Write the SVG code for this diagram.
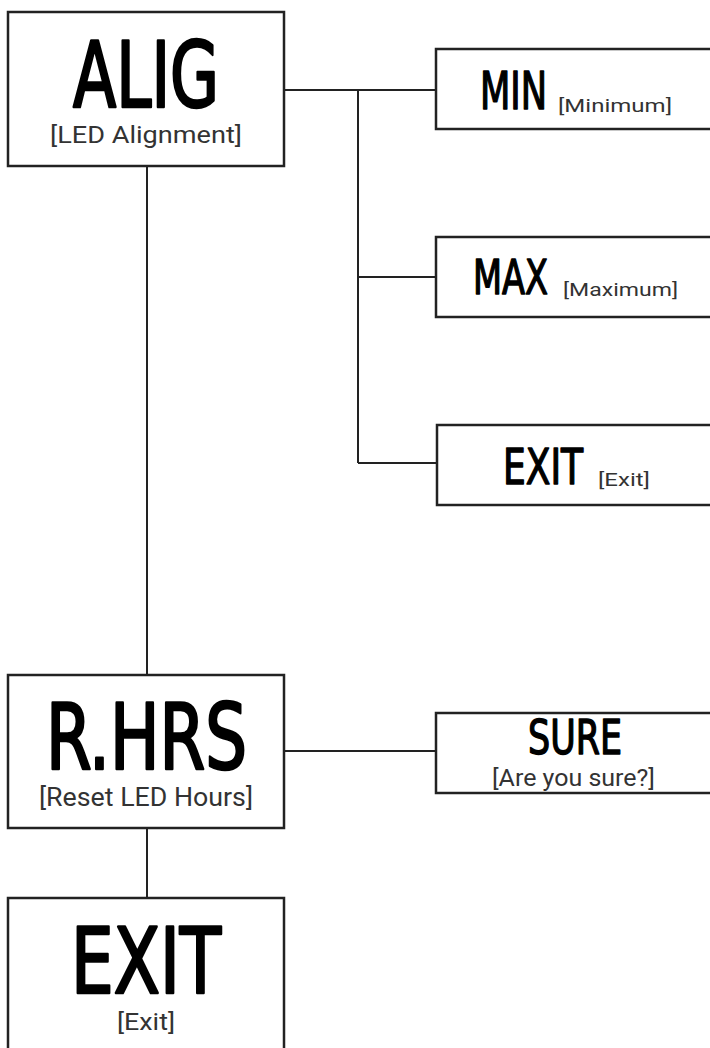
<svg xmlns="http://www.w3.org/2000/svg" width="710" height="1048" viewBox="0 0 710 1048">
<style>
.box{fill:#fff;stroke:#222;stroke-width:2.5}
.seg{font-family:"DejaVu Sans Condensed","DejaVu Sans",sans-serif;font-weight:normal;fill:#000;stroke:#000;stroke-linejoin:round}
.big{stroke-width:2.6}
.sm{stroke-width:1.4}
.lbl{font-family:Roboto,"Liberation Sans",sans-serif;fill:#333}
.conn line{stroke:#222;stroke-width:2}
</style>
<rect width="710" height="1048" fill="#fff"/>
<g class="conn">
<line x1="147" y1="166" x2="147" y2="675"/>
<line x1="284" y1="90" x2="436" y2="90"/>
<line x1="358" y1="90" x2="358" y2="463"/>
<line x1="358" y1="277" x2="436" y2="277"/>
<line x1="358" y1="463" x2="436" y2="463"/>
<line x1="284" y1="751" x2="436" y2="751"/>
<line x1="147" y1="828" x2="147" y2="898"/>
</g>
<g id="alig">
<rect class="box" x="8" y="12" width="276" height="154"/>
<text class="seg big" x="73" y="107" font-size="91" textLength="146" lengthAdjust="spacingAndGlyphs">ALIG</text>
<text class="lbl" x="50" y="143" font-size="24" textLength="192" lengthAdjust="spacingAndGlyphs">[LED Alignment]</text>
</g>
<g id="min">
<rect class="box" x="436" y="49" width="290" height="80"/>
<text class="seg sm" x="480" y="109" font-size="51" textLength="67" lengthAdjust="spacingAndGlyphs">MIN</text>
<text class="lbl" x="558" y="112" font-size="18" textLength="114" lengthAdjust="spacingAndGlyphs">[Minimum]</text>
</g>
<g id="max">
<rect class="box" x="436" y="237" width="290" height="80"/>
<text class="seg sm" x="473" y="294" font-size="48" textLength="75" lengthAdjust="spacingAndGlyphs">MAX</text>
<text class="lbl" x="563" y="296" font-size="18" textLength="115" lengthAdjust="spacingAndGlyphs">[Maximum]</text>
</g>
<g id="exit1">
<rect class="box" x="437" y="425" width="290" height="80"/>
<text class="seg sm" x="503" y="484" font-size="50" textLength="80" lengthAdjust="spacingAndGlyphs">EXIT</text>
<text class="lbl" x="598" y="486" font-size="18" textLength="52" lengthAdjust="spacingAndGlyphs">[Exit]</text>
</g>
<g id="rhrs">
<rect class="box" x="8" y="675" width="276" height="153"/>
<text class="seg big" x="46" y="769" font-size="91" textLength="201" lengthAdjust="spacingAndGlyphs">R.HRS</text>
<text class="lbl" x="39" y="806" font-size="25" textLength="214" lengthAdjust="spacingAndGlyphs">[Reset LED Hours]</text>
</g>
<g id="sure">
<rect class="box" x="436" y="713" width="290" height="80"/>
<text class="seg sm" x="528" y="754" font-size="48" textLength="94" lengthAdjust="spacingAndGlyphs">SURE</text>
<text class="lbl" x="492" y="786" font-size="24" textLength="163" lengthAdjust="spacingAndGlyphs">[Are you sure?]</text>
</g>
<g id="exit2">
<rect class="box" x="8" y="898" width="276" height="170"/>
<text class="seg big" x="71" y="993" font-size="91" textLength="150" lengthAdjust="spacingAndGlyphs">EXIT</text>
<text class="lbl" x="117" y="1030" font-size="24" textLength="58" lengthAdjust="spacingAndGlyphs">[Exit]</text>
</g>
</svg>
